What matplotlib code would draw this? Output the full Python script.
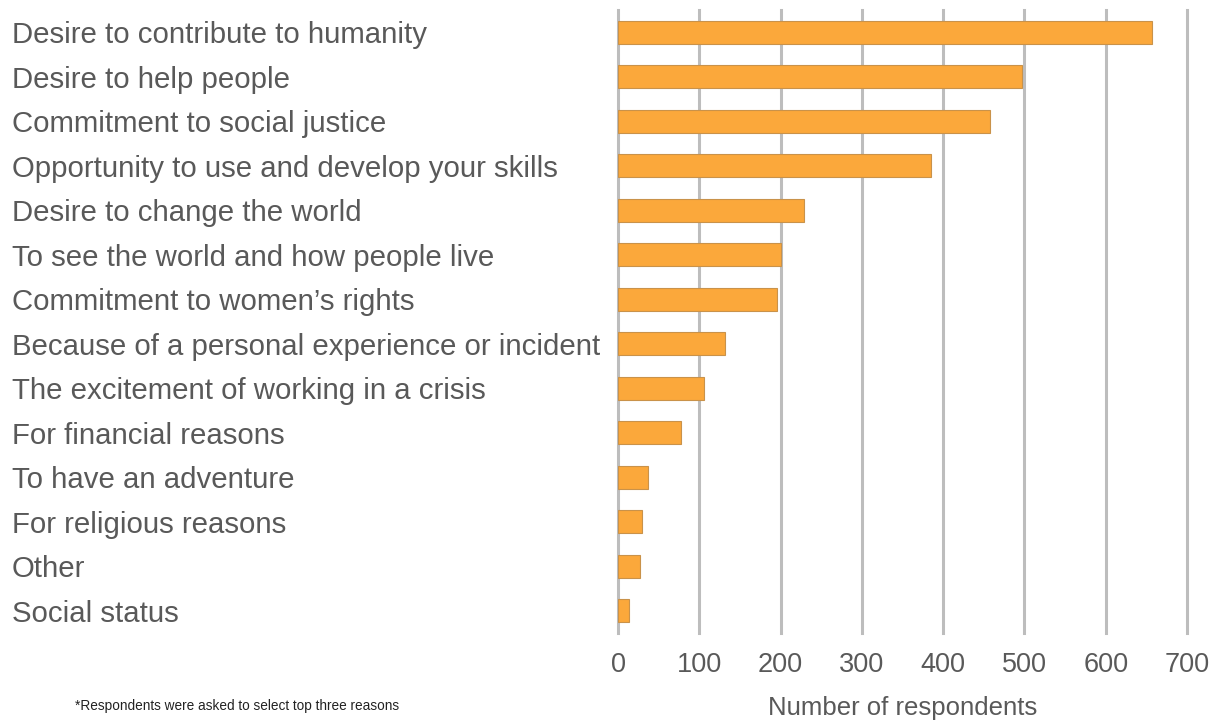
import matplotlib.pyplot as plt

plt.rcParams['font.family'] = ['Liberation Sans', 'DejaVu Sans']

# Reasons for choosing humanitarian work (top to bottom)
reasons = [
    "Desire to contribute to humanity",
    "Desire to help people",
    "Commitment to social justice",
    "Opportunity to use and develop your skills",
    "Desire to change the world",
    "To see the world and how people live",
    "Commitment to women\u2019s rights",
    "Because of a personal experience or incident",
    "The excitement of working in a crisis",
    "For financial reasons",
    "To have an adventure",
    "For religious reasons",
    "Other",
    "Social status",
]
respondents = [657, 497, 458, 385, 229, 201, 196, 132, 106, 78, 37, 29, 27, 14]
x_ticks = [0, 100, 200, 300, 400, 500, 600, 700]

fig = plt.figure(figsize=(12.15, 7.24), dpi=100)
ax = fig.add_axes([618 / 1215, 1 - 633 / 724, (1187 - 618) / 1215, (633 - 10) / 724])

pos = list(range(len(reasons)))
ax.barh(pos, respondents, height=0.52, color='#FBA83B',
        edgecolor='#C9924A', linewidth=0.8, zorder=3)

ax.set_xlim(0, 700)
ax.set_ylim(len(reasons) - 0.5, -0.5)
ax.set_xticks(x_ticks)
ax.set_xticklabels([str(t) for t in x_ticks])
ax.grid(axis='x', color='#BDBDBD', linewidth=2.2, zorder=0)
ax.set_axisbelow(True)
for gl in ax.get_xgridlines():
    gl.set_clip_on(False)

for s in ax.spines.values():
    s.set_visible(False)

ax.set_yticks(pos)
ax.set_yticklabels(reasons, ha='left', fontsize=21.2, color='#595959')
ax.tick_params(axis='y', length=0, pad=(618 - 12) * 0.72)
ax.tick_params(axis='x', length=0, pad=14, labelsize=19.5, labelcolor='#595959')

ax.set_xlabel("Number of respondents", fontsize=18.5, color='#595959', labelpad=13)

fig.text(75 / 1215, 1 - 706 / 724, "*Respondents were asked to select top three reasons",
         fontsize=9.8, color='#222222', va='center', ha='left')

fig.savefig('out.png', dpi=100)
